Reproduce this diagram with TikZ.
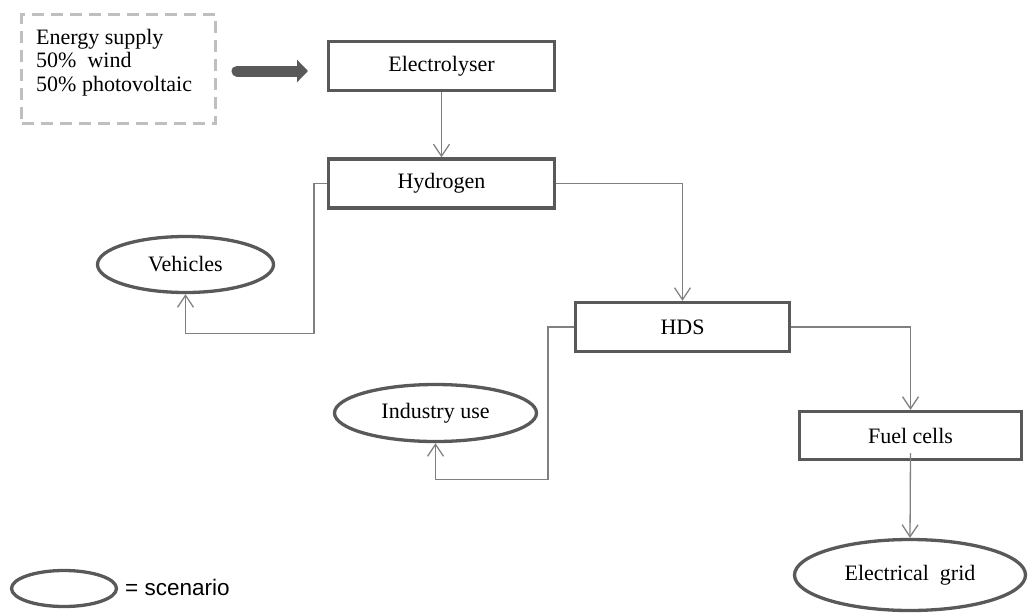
\documentclass[tikz,border=0pt]{standalone}
\usepackage{fontspec}
\setmainfont{Liberation Serif}
\setsansfont{Liberation Sans}
\usetikzlibrary{arrows.meta,shapes.geometric,calc}
\definecolor{boxc}{RGB}{89,89,89}
\definecolor{connc}{RGB}{128,128,128}
\definecolor{dashc}{RGB}{191,191,191}
\begin{document}
\begin{tikzpicture}[x=1pt,y=-1pt,
  every node/.style={font=\fontsize{22}{23.5}\selectfont},
  procbox/.style={draw=boxc,line width=3.3pt,rectangle,inner sep=0pt},
  scen/.style={draw=boxc,line width=3.3pt,ellipse,inner sep=0pt},
  conn/.style={draw=connc,line width=1.3pt,-{Straight Barb[length=12pt,width=16pt]}},
  bigarrow/.style={draw=boxc,line width=11pt,line cap=round,-{Triangle[length=11pt,width=22pt]}}]
\useasboundingbox (0,0) rectangle (1028,614);

% supply box and its text
\node[draw=dashc,line width=3pt,dash pattern=on 12pt off 7pt,rectangle,
      minimum width=194pt,minimum height=109pt,inner sep=0pt] (energy) at (118.5,69) {};
\node[anchor=north west,inner sep=0pt,align=left] (energytext) at (36,29)
  {Energy supply\\50\%\ \ wind\\50\% photovoltaic};

% process boxes
\node[procbox,minimum width=226pt,minimum height=49pt] (elec) at (441.5,66) {Electrolyser};
\node[procbox,minimum width=226pt,minimum height=49pt] (hyd) at (441.5,183.5) {Hydrogen};
\node[procbox,minimum width=214pt,minimum height=49pt] (hds) at (682.5,327) {HDS};
\node[procbox,minimum width=222pt,minimum height=48pt] (fc) at (910.5,435.5) {Fuel cells};

% scenarios
\node[scen,minimum width=176pt,minimum height=56pt] (veh) at (185.5,264.5) {Vehicles};
\node[scen,minimum width=202pt,minimum height=57pt] (ind) at (435.5,413) {Industry use};
\node[scen,minimum width=231pt,minimum height=71pt] (grid) at (910,575) {Electrical\ \ grid};

% legend
\node[scen,minimum width=105pt,minimum height=36pt] (legend) at (64,588.5) {};
\node[anchor=base west,inner sep=0pt,font=\sffamily\fontsize{22.5}{25}\selectfont] (legendtext) at (125,595) {= scenario};

% supply arrow
\coordinate (sa) at (237,71);
\coordinate (sb) at (308,71);
\draw[bigarrow] (sa) -- (sb);

% flows
\draw[conn] (elec.south) -- (hyd.north);
\draw[conn] (hyd.east) -| (hds.north);
\draw[conn] (hyd.west) -- ++(-13,0) |- ([yshift=-39pt]veh.south) -- (veh.south);
\draw[conn] (hds.west) -- ++(-26,0) |- ([yshift=-36pt]ind.south) -- (ind.south);
\draw[conn] (hds.east) -| (fc.north);
\draw[conn] ([yshift=8pt]fc.south) -- (grid.north);
\end{tikzpicture}
\end{document}
